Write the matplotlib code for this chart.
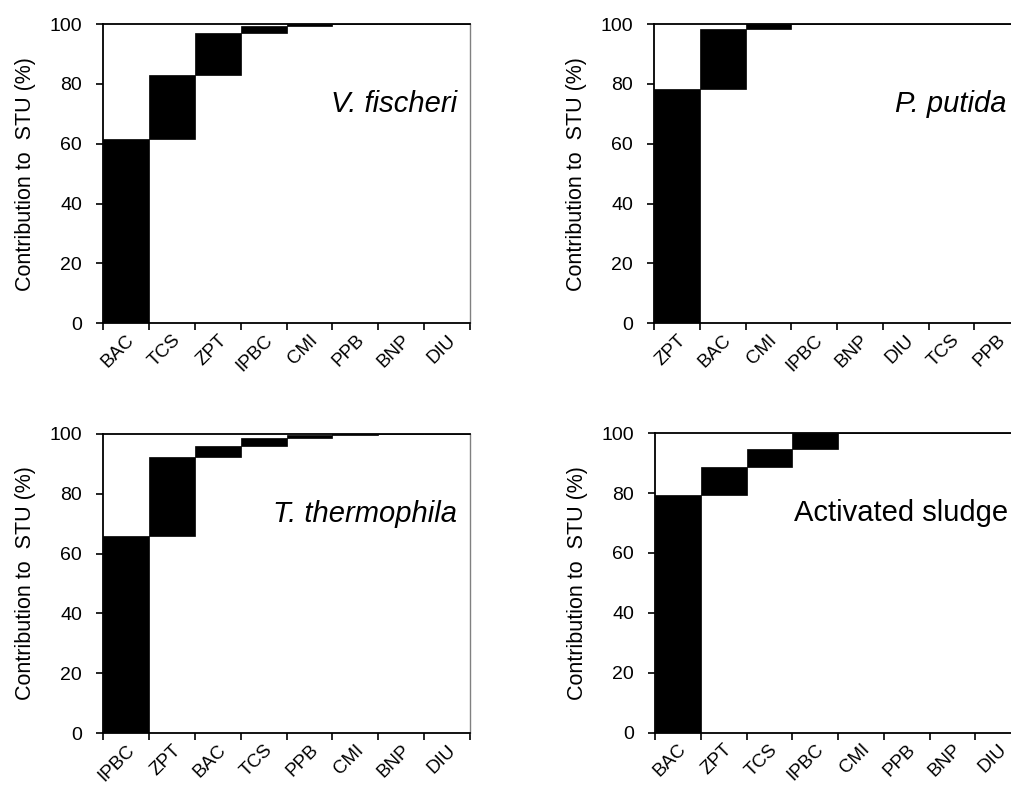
import numpy as np
import matplotlib.pyplot as plt

plt.rcParams['font.family'] = ['Liberation Sans', 'DejaVu Sans']

# Contribution of each compound to the sum of toxic units (%), sorted high to low
vf_names = ['BAC', 'TCS', 'ZPT', 'IPBC', 'CMI', 'PPB', 'BNP', 'DIU']
vf_values = [61.7, 21.4, 13.8, 2.3, 0.7, 0.1, 0.0, 0.0]

pp_names = ['ZPT', 'BAC', 'CMI', 'IPBC', 'BNP', 'DIU', 'TCS', 'PPB']
pp_values = [78.4, 19.8, 1.8, 0.0, 0.0, 0.0, 0.0, 0.0]

tt_names = ['IPBC', 'ZPT', 'BAC', 'TCS', 'PPB', 'CMI', 'BNP', 'DIU']
tt_values = [66.0, 26.1, 3.8, 2.6, 1.1, 0.4, 0.0, 0.0]

as_names = ['BAC', 'ZPT', 'TCS', 'IPBC', 'CMI', 'PPB', 'BNP', 'DIU']
as_values = [79.5, 9.2, 6.0, 5.3, 0.0, 0.0, 0.0, 0.0]

panels = [
    (vf_names, vf_values, 'V. fischeri', 'italic', [0.1019, 0.5892, 0.363, 0.3803]),
    (pp_names, pp_values, 'P. putida', 'italic', [0.6469, 0.5892, 0.362, 0.3803]),
    (tt_names, tt_values, 'T. thermophila', 'italic', [0.1019, 0.0682, 0.363, 0.3807]),
    (as_names, as_values, 'Activated sludge', 'normal', [0.6479, 0.0690, 0.362, 0.3807]),
]

fig = plt.figure(figsize=(10.11, 7.87), dpi=100)

for names, values, title, style, rect in panels:
    ax = fig.add_axes(rect)
    n = len(names)
    x = np.arange(n)
    bottoms = np.concatenate([[0], np.cumsum(values)[:-1]])
    ax.bar(x, values, bottom=bottoms, width=1.0, color='black',
           edgecolor='black', linewidth=0.5)

    ax.set_xlim(-0.5, n - 0.5)
    ax.set_ylim(0, 100)
    ax.set_yticks(np.arange(0, 101, 20))

    # ticks at the category borders, labels at the centres
    ax.set_xticks(np.arange(n + 1) - 0.5)
    ax.set_xticklabels([])
    ax.set_xticks(x, minor=True)
    ax.set_xticklabels(names, minor=True, rotation=45, ha='right',
                       rotation_mode='anchor', fontsize=13.5)
    ax.tick_params(axis='x', which='minor', length=0, pad=6)
    ax.tick_params(axis='both', which='major', direction='out', length=5,
                   width=1.2, labelsize=14)
    ax.tick_params(axis='y', which='major', pad=10)

    for side in ['left', 'bottom', 'top']:
        ax.spines[side].set_linewidth(1.3)
    ax.spines['right'].set_color('#808080')
    ax.spines['right'].set_linewidth(1.0)

    ax.set_ylabel('Contribution to  STU (%)', fontsize=15.5, labelpad=10)
    ax.text(0.964, 0.705, title, transform=ax.transAxes, ha='right',
            va='baseline', fontsize=21, style=style)

fig.savefig('out.png', dpi=100)
